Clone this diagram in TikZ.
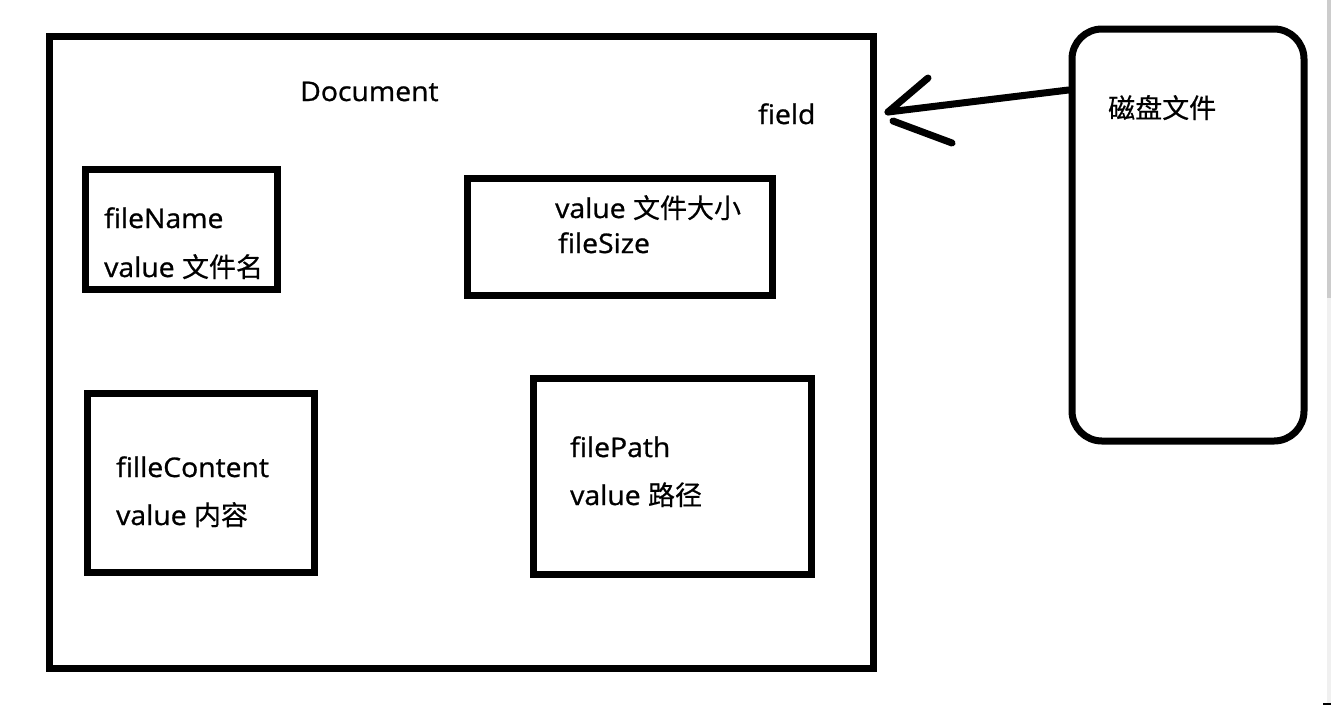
\documentclass[tikz,border=0pt]{standalone}
\usepackage{fontspec}
\setmainfont{Open Sans}[FakeBold=0.9,FakeStretch=1.05]
\newfontfamily\cjk{Noto Sans CJK SC}[FakeBold=0.5]
\begin{document}
\begin{tikzpicture}[x=1pt,y=-1pt,
  frame/.style={draw=black,line width=7pt,fill=none,inner sep=0pt},
  label/.style={anchor=base west,inner sep=0pt,font=\fontsize{27}{32}\selectfont},
  stroke/.style={line width=7pt,line cap=round}]
\useasboundingbox[fill=white] (0,0) rectangle (1331,705);
% window scrollbar strip on the right edge
\fill[gray!40] (1327,0) rectangle (1331,298);
\fill[gray!12] (1327,298) rectangle (1331,705);
\fill[black] (1323,703) rectangle (1331,705);

% Document container
\node[frame,minimum width=824pt,minimum height=632pt] (doc) at (461.5,352) {};
\node[label] (doctitle) at (300,101) {Document};
\node[label] (field) at (758,124) {field};

% field boxes
\node[frame,minimum width=192pt,minimum height=120pt] (fname) at (181,229) {};
\node[label] (fnamet) at (104,228) {fileName};
\node[label] (fnamev) at (104,277) {value {\cjk 文件名}};

\node[frame,minimum width=305pt,minimum height=117pt] (fsize) at (619.5,236.5) {};
\node[label] (fsizev) at (555,218) {value {\cjk 文件大小}};
\node[label] (fsizet) at (558,253) {fileSize};

\node[frame,minimum width=227pt,minimum height=179pt] (fcont) at (200.5,482.5) {};
\node[label] (fcontt) at (116,477) {filleContent};
\node[label] (fcontv) at (116,525) {value {\cjk 内容}};

\node[frame,minimum width=278pt,minimum height=196pt] (fpath) at (672,476) {};
\node[label] (fpatht) at (570,457) {filePath};
\node[label] (fpathv) at (570,505) {value {\cjk 路径}};

% disk file
\node[frame,rounded corners=30pt,minimum width=232pt,minimum height=412pt] (disk) at (1188,235) {};
\node[label] (diskt) at (1108,118) {\cjk 磁盘文件};

% hand-drawn arrow from the disk file to the document
\coordinate (tip) at (888,112);
\coordinate (barbA) at (928,78);
\coordinate (barbB0) at (893,121);
\coordinate (barbB1) at (952,143);
\draw[stroke] (disk.west |- 0,90) -- (tip);
\draw[stroke] (tip) -- (barbA);
\draw[stroke] (barbB0) -- (barbB1);
\end{tikzpicture}
\end{document}
